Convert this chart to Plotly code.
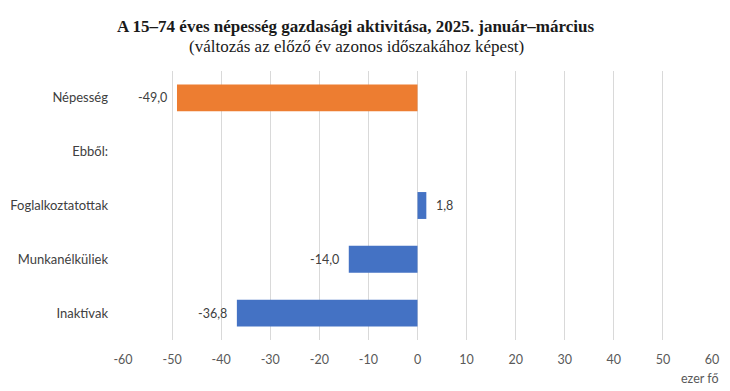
import plotly.graph_objects as go

categories = ["Népesség", "Ebből:", "Foglalkoztatottak", "Munkanélküliek", "Inaktívak"]
values = [-49.0, None, 1.8, -14.0, -36.8]
labels = ["-49,0", "", "1,8", "-14,0", "-36,8"]
colors = ["#ED7D31", "#4472C4", "#4472C4", "#4472C4", "#4472C4"]
x_ticks = [-60, -50, -40, -30, -20, -10, 0, 10, 20, 30, 40, 50, 60]
x_tick_labels = ["-60", "-50", "-40", "-30", "-20", "-10", "0", "10", "20", "30", "40", "50", "60"]

L, R, T, B = 123, 18, 71, 51
W, H = 730, 391
ph = H - T - B
pw = W - L - R
sans = "Lato, Open Sans, sans-serif"
serif = "Liberation Serif, Times New Roman, serif"

fig = go.Figure(go.Bar(
    y=categories, x=values, orientation="h",
    marker=dict(color=colors, line=dict(width=0)),
    width=0.5, hoverinfo="x+y",
))

annotations = [
    dict(text="<b>A 15–74 éves népesség gazdasági aktivitása, 2025. január–március</b>",
         x=(355 - L) / pw, xref="paper", y=1 + (T - 27) / ph, yref="paper",
         xanchor="center", yanchor="middle", showarrow=False,
         font=dict(family=serif, size=17, color="#1a1a1a")),
    dict(text="(változás az előző év azonos időszakához képest)",
         x=(356 - L) / pw, xref="paper", y=1 + (T - 46) / ph, yref="paper",
         xanchor="center", yanchor="middle", showarrow=False,
         font=dict(family=serif, size=17, color="#1a1a1a")),
    dict(text="ezer fő", x=(720 - L) / pw, xref="paper", xanchor="right",
         y=-(378 - (H - B)) / ph, yref="paper", yanchor="middle", showarrow=False,
         font=dict(family=sans, size=12.5, color="#595959")),
]
for cat, v, lab in zip(categories, values, labels):
    if v is None:
        continue
    annotations.append(dict(
        text=lab, x=v, y=cat, xref="x", yref="y", showarrow=False,
        xanchor="right" if v < 0 else "left", xshift=-8 if v < 0 else 8,
        font=dict(family=sans, size=12.5, color="#404040"),
    ))

fig.update_layout(
    width=W, height=H,
    margin=dict(l=L, r=R, t=T, b=B, autoexpand=False),
    paper_bgcolor="white", plot_bgcolor="white",
    showlegend=False,
    font=dict(family=sans, size=12.5, color="#595959"),
    annotations=annotations,
)

fig.update_xaxes(
    range=[-60, 60], tickvals=x_ticks, ticktext=x_tick_labels,
    showgrid=True, gridcolor="#D9D9D9", gridwidth=1,
    zeroline=False, showline=False, ticks="", ticklabelstandoff=10,
    tickfont=dict(size=12.5, color="#595959"), automargin=False,
)
fig.update_yaxes(
    autorange="reversed", showgrid=False, zeroline=False, showline=False,
    ticks="", ticklabelstandoff=14, tickfont=dict(size=13, color="#404040"),
    automargin=False,
)

fig.write_html("out.html", config={"displayModeBar": False},
               post_script="document.body.style.margin='0px';")
